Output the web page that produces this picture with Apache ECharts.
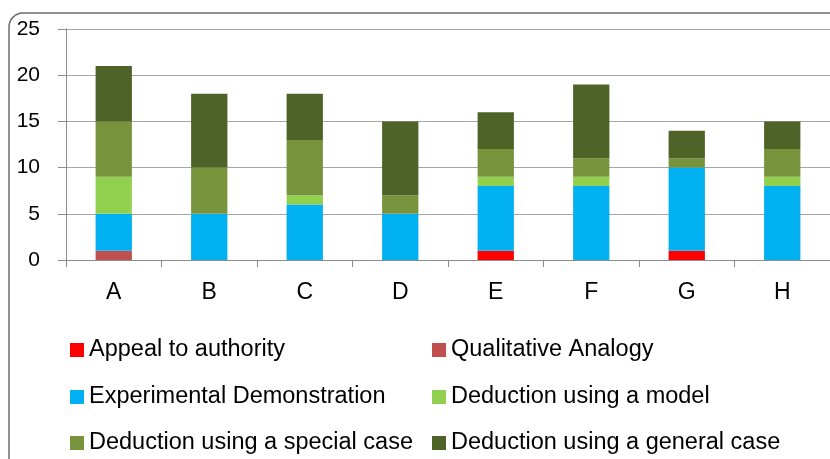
<!DOCTYPE html>
<html>
<head>
<meta charset="utf-8">
<script src="https://cdn.jsdelivr.net/npm/echarts@6/dist/echarts.min.js"></script>
<style>
  html, body { margin: 0; padding: 0; background: #fff; }
  #chart { width: 830px; height: 459px; }
</style>
</head>
<body>
<div id="chart"></div>
<script>
    var categories = ['A', 'B', 'C', 'D', 'E', 'F', 'G', 'H'];
    var yTicks = [0, 5, 10, 15, 20, 25];

    var appealToAuthority = [0, 0, 0, 0, 1, 0, 1, 0];
    var qualitativeAnalogy = [1, 0, 0, 0, 0, 0, 0, 0];
    var experimentalDemo = [4, 5, 6, 5, 7, 8, 9, 8];
    var deductionModel = [4, 0, 1, 0, 1, 1, 0, 1];
    var deductionSpecial = [6, 5, 6, 2, 3, 2, 1, 3];
    var deductionGeneral = [6, 8, 5, 8, 4, 8, 3, 3];

    var seriesNames = ['Appeal to authority', 'Qualitative Analogy', 'Experimental Demonstration',
        'Deduction using a model', 'Deduction using a special case', 'Deduction using a general case'];
    var seriesData = [appealToAuthority, qualitativeAnalogy, experimentalDemo,
        deductionModel, deductionSpecial, deductionGeneral];
    var colors = ['#FF0000', '#C0504D', '#00B0F0', '#92D050', '#77933C', '#4F6228'];

    var font = 'Liberation Sans';
    var myChart = echarts.init(document.getElementById('chart'));

    var series = [];
    for (var i = 0; i < seriesNames.length; i++) {
        series.push({
            name: seriesNames[i],
            type: 'bar',
            stack: 'total',
            barWidth: '38%',
            itemStyle: { color: colors[i] },
            data: seriesData[i]
        });
    }

    // legend: two columns, three rows, one legend per entry
    var legendCols = [70, 432];
    var legendRows = [338, 385, 431];
    var legends = [];
    for (var j = 0; j < seriesNames.length; j++) {
        legends.push({
            left: legendCols[j % 2],
            top: legendRows[Math.floor(j / 2)],
            padding: 0,
            itemWidth: 14, itemHeight: 14, itemGap: 6,
            icon: 'rect',
            textStyle: { fontFamily: font, fontSize: 23.5, color: '#000' },
            data: [seriesNames[j]]
        });
    }

    var option = {
        animation: false,
        color: colors,
        graphic: [{
            type: 'rect',
            shape: { x: 9, y: 13, width: 840, height: 470, r: 14 },
            style: { fill: 'none', stroke: '#6d6d6d', lineWidth: 1.5 },
            z: -1
        }],
        grid: { left: 66, right: 0, top: 29, bottom: 199 },
        legend: legends,
        xAxis: {
            type: 'category',
            data: categories,
            axisLine: { lineStyle: { color: '#8c8c8c', width: 1 } },
            axisTick: { show: true, length: 7, lineStyle: { color: '#8c8c8c' } },
            axisLabel: { fontFamily: font, fontSize: 23, color: '#000', margin: 21 }
        },
        yAxis: {
            type: 'value',
            min: yTicks[0],
            max: yTicks[yTicks.length - 1],
            interval: 5,
            axisLine: { show: true, lineStyle: { color: '#8c8c8c' } },
            axisTick: { show: true, length: 8, lineStyle: { color: '#8c8c8c' } },
            splitLine: { lineStyle: { color: '#a6a6a6' } },
            axisLabel: { fontFamily: font, fontSize: 21, color: '#000', margin: 26 }
        },
        series: series
    };

    myChart.setOption(option);
</script>
</body>
</html>
